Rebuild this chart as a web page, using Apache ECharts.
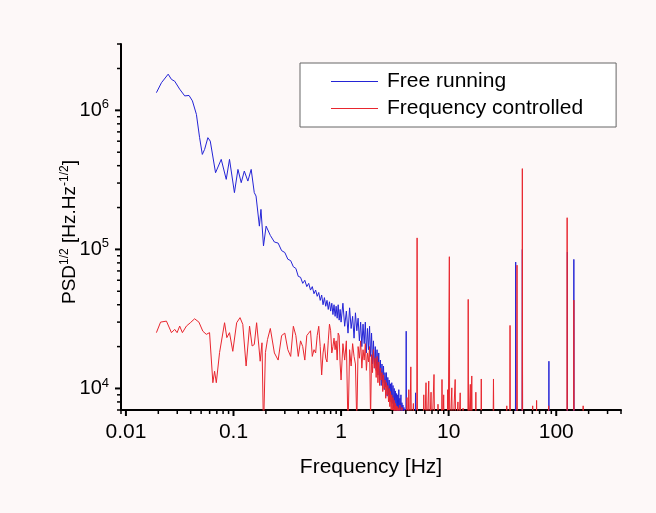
<!DOCTYPE html>
<html><head><meta charset="utf-8">
<script src="https://cdn.jsdelivr.net/npm/echarts@6/dist/echarts.min.js"></script>
<style>html,body{margin:0;padding:0;background:#fdf8f8;} #c{width:656px;height:513px;}</style>
</head><body><div id="c"></div>
<script>
// ---- tick labels ----
const xMajor = [0.01, 0.1, 1, 10, 100];
const xLabels = ['0.01', '0.1', '1', '10', '100'];
const xMinor = [0.009, 0.02, 0.03, 0.04, 0.05, 0.06, 0.07, 0.08, 0.09, 0.2, 0.3, 0.4, 0.5, 0.6, 0.7, 0.8, 0.9,
  2, 3, 4, 5, 6, 7, 8, 9, 20, 30, 40, 50, 60, 70, 80, 90, 200, 300, 400];
const yMajor = [1e4, 1e5, 1e6];
const yExp = ['4', '5', '6'];
const yMinor = [7000, 8000, 9000, 20000, 30000, 40000, 50000, 60000, 70000, 80000, 90000,
  200000, 300000, 400000, 500000, 600000, 700000, 800000, 900000, 2000000, 3000000];

// ---- Free running (blue) ----
const blueLowFreq = [0.0192,0.0214,0.0247,0.0265,0.0284,0.0316,0.0352,0.0386,0.0415,0.0452,
  0.0484,0.0513,0.0539,0.0578,0.0608,0.0681,0.0769,0.0856,0.0918,0.102,
  0.110,0.118,0.126,0.136,0.146,0.156,0.162,0.174,0.180,0.190,0.201];
const blueLowVal = [1340000,1580000,1820000,1670000,1620000,1420000,1270000,1280000,1170000,936000,
  636000,482000,524000,636000,601000,356000,444000,319000,444000,256000,
  376000,302000,366000,310000,376000,256000,242000,147000,194000,106000,147000];

// shared frequency grid of the noisy middle band
const midFreq = [0.22,0.24,0.26,0.28,0.30,0.32,0.34,0.36,0.38,0.40,
  0.42,0.44,0.46,0.48,0.50,0.52,0.54,0.56,0.58,0.60,
  0.62,0.64,0.66,0.68,0.70,0.72,0.74,0.76,0.78,0.80,
  0.82,0.84,0.86,0.88,0.90,0.92,0.94,0.96,0.98,1.00,
  1.04,1.08,1.12,1.16,1.20,1.24,1.28,1.32,1.36,1.40,
  1.44,1.48,1.52,1.56,1.60,1.64,1.68,1.72,1.76,1.80,
  1.84,1.88,1.92,1.96,2.00,2.04,2.08,2.12,2.16,2.20,
  2.24,2.28,2.32,2.36,2.40,2.44,2.48,2.52,2.56,2.60,
  2.64,2.68,2.72,2.76,2.80,2.84,2.88,2.92,2.96,3.00,
  3.04,3.08,3.12,3.16,3.20,3.24,3.28,3.32,3.36,3.40,
  3.44,3.48,3.52,3.56,3.60,3.64,3.68,3.72,3.76,3.80,
  3.84,3.88,3.92,3.96];
const blueMidVal = [126000,113000,111000,98000,95000,85000,83000,75000,73000,64000,
  63000,57000,60000,54000,57000,51000,54000,48000,51000,46000,
  49000,43000,47000,40000,45000,39000,43000,37000,42000,36000,
  41000,34000,40000,33000,39000,32000,40000,31000,37000,30000,
  41000,28000,36000,25000,38000,27000,33000,23000,35000,26000,
  32000,22000,30000,20000,29000,21000,30000,18000,27000,19000,
  28000,17000,25000,15000,22000,14000,20000,13500,19000,12500,
  18000,11500,16000,10500,15000,11000,14500,9800,13000,10200,
  13000,8800,12000,9000,11500,8200,10800,8000,11000,7800,
  10500,7200,10000,6800,9600,7300,9200,6500,9000,6900,
  9800,6300,8500,6600,9000,5800,7900,6200,7600,5500,
  7300,5400,7100,5000];
const blueHighFreq = [4.00,4.03,4.06,4.88,4.92,4.96,41.7,42.0,42.3,48.1,48.4,48.7,
  85.2,85.5,85.8,126.7,127.0,127.3,145.5,145.8,146.1,200];
const blueHighVal = [4800,25800,4500,4500,9300,4500,4000,81100,4000,4000,100000,4000,
  4000,15700,4000,4000,95700,4000,4000,84800,4000,4000];

// ---- Frequency controlled (red) ----
const redLowFreq = [0.0192,0.0210,0.0238,0.0265,0.0284,0.0299,0.0316,0.0335,0.0365,0.0397,
  0.0435,0.0477,0.0519,0.0559,0.0599,0.0643,0.0667,0.0692,0.0742,0.0826,
  0.0867,0.0918,0.0985,0.107,0.115,0.122,0.131,0.141,0.149,0.156,
  0.164,0.172,0.177,0.184,0.190,0.198,0.207];
const redLowVal = [25200,30000,30500,25200,26600,25200,28100,25200,28100,29700,
  31700,30000,25800,24500,25200,11000,13300,11000,18100,29700,
  23200,25200,18500,29700,32300,28900,14500,28100,20200,20700,
  29700,20200,15700,21300,5000,18100,22500];
const redMidVal = [27000,18000,16000,24000,25000,19000,17000,28000,24000,17000,
  22000,20000,16000,24000,25000,26000,17000,19000,18000,24000,
  28000,20000,12500,18000,21000,16500,15500,22000,29000,26000,
  18000,20000,23000,19000,22000,16000,25000,24000,15000,11500,
  21000,16000,22000,5000,19000,14500,21000,17000,15000,5500,
  20000,16500,22000,14000,19000,16000,21000,13500,18000,15500,
  20000,6000,17500,13000,19000,14000,16500,12000,17000,11000,
  15500,10500,14000,11500,13000,9500,12500,10000,11500,8500,
  11000,9000,10500,8000,10000,7400,9500,7000,9000,6500,
  8600,6000,8200,6200,7800,5600,7500,5800,7400,5200,
  7200,5000,7600,5000,6800,4800,7300,4500,6600,4500,
  6200,4400,7000,4200];
const redHighFreq = [4.02,4.10,4.18,4.26,4.34,4.45,4.52,4.70,4.80,5.05,5.09,5.13,5.35,5.50,
  5.80,5.87,5.95,6.10,6.16,6.25,6.45,6.53,6.62,6.80,6.86,6.95,7.20,7.31,7.42,7.60,
  7.90,7.96,8.05,8.30,8.58,8.67,8.78,8.90,8.99,9.10,9.45,9.70,9.79,9.90,
  10.08,10.15,10.22,10.55,10.7,10.85,11.3,11.5,11.65,12.0,12.2,12.35,12.6,12.8,13.0,13.6,14.3,
  15.1,15.2,15.3,15.7,15.9,16.1,16.25,16.4,16.6,17.7,17.9,18.1,19.9,20.1,20.3,
  25.8,26.1,26.4,34.4,34.7,35.0,36.9,37.2,37.5,42.9,43.2,43.5,48.1,48.4,48.7,
  60.0,60.4,60.8,65.3,65.7,66.1,84.5,85.0,85.5,126.0,126.3,126.6,145.3,145.8,146.3,
  177.5,178,178.5,200];
const redHighVal = [4200,8600,4300,9800,4200,14300,4000,7800,4000,4000,121000,4000,6500,4000,
  4000,9000,4000,4000,11000,4000,4000,11300,4000,4000,9400,4000,4000,12600,4000,6000,
  4000,7700,4000,5500,4000,11600,4000,4000,9000,4000,6200,4000,9800,4000,
  4000,88600,4000,4000,10100,4000,4000,11600,4000,4000,8000,4000,4000,9300,4000,7200,4000,
  4000,43700,4000,4000,10700,4000,4000,12300,4000,4000,9400,4000,4000,11700,4000,
  4000,11700,4000,4000,7500,4000,4000,28400,4000,4000,77000,4000,4000,381000,4000,
  4000,7500,4000,4000,8200,4000,4000,7500,4000,4000,169000,4000,4000,43200,4000,
  4000,7500,4000,4000];

const seriesNames = ['Free running', 'Frequency controlled'];
const seriesColors = ['#2424d6', '#e8262e'];

function zip(f, v) { const n = Math.min(f.length, v.length); const o = []; for (let i = 0; i < n; i++) o.push([f[i], v[i]]); return o; }
const blueData = zip(blueLowFreq, blueLowVal).concat(zip(midFreq, blueMidVal), zip(blueHighFreq, blueHighVal));
const redData = zip(redLowFreq, redLowVal).concat(zip(midFreq, redMidVal), zip(redHighFreq, redHighVal));

const FONT = "'Liberation Sans',Arial,sans-serif";
function matchIdx(arr, v) { return arr.findIndex(m => Math.abs(Math.log10(m) - Math.log10(v)) < 1e-6); }

const chart = echarts.init(document.getElementById('c'), null, { renderer: 'canvas' });
const option = {
  backgroundColor: '#fdf8f8',
  animation: false,
  grid: { left: 121, top: 44, right: 35, bottom: 103, containLabel: false, outerBoundsMode: 'none' },
  legend: {
    left: 300, top: 63, orient: 'vertical', padding: [8, 33, 8, 31], itemGap: 6,
    itemWidth: 47, itemHeight: 1, icon: 'rect', backgroundColor: '#ffffff', borderColor: '#666', borderWidth: 1,
    borderRadius: 0, selectedMode: false,
    textStyle: { fontFamily: FONT, fontSize: 21, color: '#000', padding: [0, 0, 0, 4] },
    data: seriesNames
  },
  xAxis: {
    type: 'log', logBase: 10, min: 0.009, max: 400,
    name: 'Frequency [Hz]', nameLocation: 'middle', nameGap: 47, nameMoveOverlap: false,
    nameTextStyle: { fontFamily: FONT, fontSize: 21, color: '#000' },
    axisLine: { show: true, onZero: false, lineStyle: { color: '#000', width: 2 } },
    axisTick: { show: false }, minorTick: { show: false }, splitLine: { show: false },
    axisLabel: { margin: 12, fontFamily: FONT, fontSize: 21, color: '#000', showMinLabel: false, showMaxLabel: false,
      formatter: v => { const i = matchIdx(xMajor, v); return i >= 0 ? xLabels[i] : ''; } }
  },
  yAxis: {
    type: 'log', logBase: 10, min: 7000, max: 3000000,
    name: 'PSD{sup|1/2} [Hz.Hz{sup|-1/2}]', nameLocation: 'middle', nameGap: 40, nameMoveOverlap: false,
    nameTextStyle: { fontFamily: FONT, fontSize: 19, color: '#000', padding: [0, 10, 0, 0],
      rich: { sup: { fontFamily: FONT, fontSize: 12, color: '#000', padding: [0, 0, 10, 0] } } },
    axisLine: { show: true, onZero: false, lineStyle: { color: '#000', width: 2 } },
    axisTick: { show: false }, minorTick: { show: false }, splitLine: { show: false },
    axisLabel: { margin: 12, fontFamily: FONT, fontSize: 20, color: '#000', showMinLabel: false, showMaxLabel: false,
      formatter: v => { const i = matchIdx(yMajor, v); return i >= 0 ? '10{sup|' + yExp[i] + '}' : ''; },
      rich: { sup: { fontFamily: FONT, fontSize: 13, color: '#000', padding: [0, 0, 11, 0] } } }
  },
  series: [
    { name: seriesNames[0], type: 'line', data: blueData, symbol: 'none', showSymbol: false, clip: true,
      lineStyle: { color: seriesColors[0], width: 1 }, itemStyle: { color: seriesColors[0] }, z: 2 },
    { name: seriesNames[1], type: 'line', data: redData, symbol: 'none', showSymbol: false, clip: true,
      lineStyle: { color: seriesColors[1], width: 1 }, itemStyle: { color: seriesColors[1] }, z: 3 }
  ]
};
chart.setOption(option);

// ticks placed through the axes' own scales
const px = v => chart.convertToPixel({ xAxisIndex: 0 }, v);
const py = v => chart.convertToPixel({ yAxisIndex: 0 }, v);
const axisX = px(0.009), axisY = py(7000);
const g = [];
function tick(x1, y1, x2, y2, w) {
  g.push({ type: 'line', silent: true, z: 50, shape: { x1, y1, x2, y2 }, style: { stroke: '#000', lineWidth: w } });
}
xMajor.forEach(v => { const x = px(v); tick(x, axisY, x, axisY + 6, 2); });
xMinor.forEach(v => { const x = px(v); tick(x, axisY, x, axisY + 4, 1.5); });
yMajor.forEach(v => { const y = py(v); tick(axisX, y, axisX - 6, y, 2); });
yMinor.forEach(v => { const y = py(v); tick(axisX, y, axisX - 4, y, 1.5); });
chart.setOption({ graphic: g });
</script>
</body></html>
